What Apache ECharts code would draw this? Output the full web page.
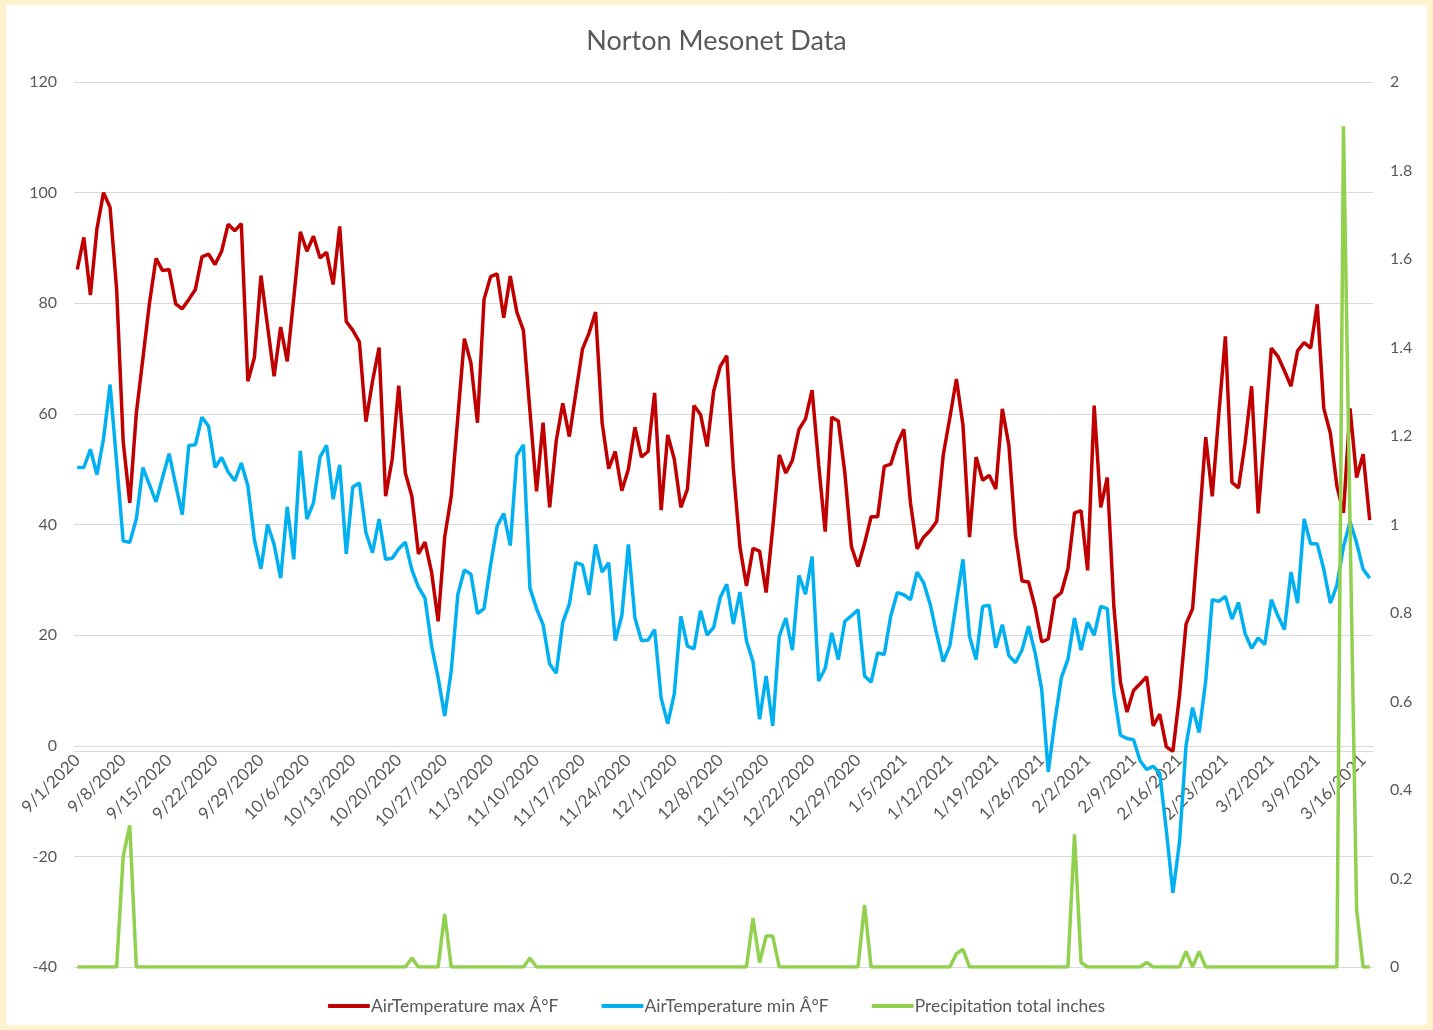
<!DOCTYPE html>
<html>
<head>
<meta charset="utf-8">
<title>Norton Mesonet Data</title>
<script src="https://cdn.jsdelivr.net/npm/echarts@6/dist/echarts.min.js"></script>
<style>
  html, body { margin: 0; height: 100%; background: #fff2cc; }
  #chart { position: absolute; left: 6px; top: 5px; width: 1421px; height: 1020px; background: #fff; }
</style>
</head>
<body>
<div id="chart"></div>
<script>
// daily values, 9/1/2020 .. 3/17/2021 (one row = one week)
const maxTemp = [
  86.1, 91.9, 81.5, 93.5, 100, 97.3, 82.5,
  55, 43.9, 60.1, 70, 80, 88.1, 85.9,
  86.1, 79.9, 79, 80.7, 82.5, 88.4, 88.9,
  87, 89.4, 94.3, 93.1, 94.4, 65.9, 70.2,
  85, 75.9, 66.8, 75.7, 69.5, 81, 92.9,
  89.4, 92.1, 88.2, 89.2, 83.4, 93.9, 76.7,
  75.1, 73, 58.6, 65.9, 72, 45.1, 51.8,
  65.1, 49.3, 45.1, 34.7, 36.8, 31.4, 22.5,
  37.7, 45.1, 59.3, 73.6, 69.2, 58.4, 80.7,
  84.8, 85.3, 77.4, 84.9, 78.4, 75.1, 60.5,
  46, 58.4, 43.1, 55.1, 61.9, 55.9, 63.8,
  71.7, 74.6, 78.4, 58.4, 50.1, 53.2, 46.1,
  50, 57.6, 52.2, 53.2, 63.8, 42.6, 56.2,
  51.8, 43.1, 46.4, 61.5, 59.9, 54.1, 64.1,
  68.6, 70.5, 50.1, 36, 28.9, 35.7, 35.2,
  27.7, 39.3, 52.6, 49.3, 51.6, 57.2, 59.1,
  64.3, 50.9, 38.7, 59.4, 58.7, 49.3, 36,
  32.4, 36.6, 41.4, 41.4, 50.5, 50.9, 54.7,
  57.2, 43.9, 35.6, 37.7, 38.9, 40.6, 52.6,
  59.3, 66.3, 58, 37.7, 52.2, 48, 48.9,
  46.4, 60.9, 54.3, 38.1, 29.8, 29.6, 25,
  18.8, 19.3, 26.7, 27.7, 32, 42.1, 42.5,
  31.7, 61.5, 43.1, 48.5, 25.2, 11.5, 6.1,
  10, 11.2, 12.5, 3.6, 5.7, -0.2, -1,
  9, 22, 24.8, 40, 55.8, 45.1, 60,
  74, 47.6, 46.6, 54.7, 65, 42, 56.7,
  71.9, 70.4, 67.8, 65, 71.4, 72.9, 71.9,
  79.8, 61, 56.5, 46.9, 42.1, 61, 48.5,
  52.7, 40.8
];

const minTemp = [
  50.3, 50.3, 53.6, 49, 55.5, 65.3, 51.2,
  37, 36.8, 41, 50.3, 47.2, 44.1, 48.5,
  52.8, 47.2, 41.8, 54.3, 54.4, 59.4, 57.8,
  50.3, 52.1, 49.5, 47.9, 51.1, 47, 37.2,
  32, 40, 36.4, 30.3, 43.2, 33.7, 53.3,
  41, 43.9, 52.2, 54.3, 44.6, 50.8, 34.7,
  46.8, 47.5, 38.5, 34.9, 41, 33.7, 33.9,
  35.6, 36.8, 31.8, 28.7, 26.7, 18.1, 12.3,
  5.4, 13.5, 27.3, 31.8, 31, 23.9, 24.8,
  32.7, 39.7, 42, 36.2, 52.5, 54.4, 28.5,
  24.8, 21.9, 14.8, 13.1, 22.3, 25.6, 33.1,
  32.7, 27.3, 36.4, 31.4, 33.1, 19, 23.5,
  36.4, 23.1, 19, 19.1, 21, 8.6, 4,
  9.4, 23.4, 18, 17.5, 24.4, 20, 21.4,
  26.8, 29.2, 22, 27.8, 19, 15.2, 4.8,
  12.6, 3.6, 19.8, 23.1, 17.3, 30.8, 27.4,
  34.2, 11.7, 14, 20.4, 15.6, 22.5, 23.5,
  24.6, 12.6, 11.5, 16.8, 16.5, 23.5, 27.7,
  27.3, 26.4, 31.4, 29.5, 25.6, 20.2, 15.2,
  18.1, 26, 33.7, 19.8, 15.6, 25.2, 25.4,
  17.7, 21.9, 16.3, 15, 17.3, 21.6, 16.8,
  10.2, -4.7, 4.4, 12.3, 15.6, 23.1, 17.3,
  22.3, 20, 25.2, 24.8, 9.8, 1.9, 1.3,
  1.1, -2.7, -4.3, -3.7, -5, -15.3, -26.6,
  -17.5, 0, 6.9, 2.4, 11.7, 26.4, 26.1,
  27, 22.9, 25.9, 20.3, 17.6, 19.5, 18.3,
  26.4, 23.5, 21, 31.4, 25.8, 41, 36.5,
  36.5, 31.9, 25.8, 29, 36, 40.5, 36.7,
  31.9, 30.3
];

const precip = [
  0, 0, 0, 0, 0, 0, 0,
  0.25, 0.32, 0, 0, 0, 0, 0,
  0, 0, 0, 0, 0, 0, 0,
  0, 0, 0, 0, 0, 0, 0,
  0, 0, 0, 0, 0, 0, 0,
  0, 0, 0, 0, 0, 0, 0,
  0, 0, 0, 0, 0, 0, 0,
  0, 0, 0.02, 0, 0, 0, 0,
  0.12, 0, 0, 0, 0, 0, 0,
  0, 0, 0, 0, 0, 0, 0.02,
  0, 0, 0, 0, 0, 0, 0,
  0, 0, 0, 0, 0, 0, 0,
  0, 0, 0, 0, 0, 0, 0,
  0, 0, 0, 0, 0, 0, 0,
  0, 0, 0, 0, 0, 0.11, 0.01,
  0.07, 0.07, 0, 0, 0, 0, 0,
  0, 0, 0, 0, 0, 0, 0,
  0, 0.14, 0, 0, 0, 0, 0,
  0, 0, 0, 0, 0, 0, 0,
  0, 0.03, 0.04, 0, 0, 0, 0,
  0, 0, 0, 0, 0, 0, 0,
  0, 0, 0, 0, 0, 0.3, 0.01,
  0, 0, 0, 0, 0, 0, 0,
  0, 0, 0.01, 0, 0, 0, 0,
  0, 0.035, 0, 0.035, 0, 0, 0,
  0, 0, 0, 0, 0, 0, 0,
  0, 0, 0, 0, 0, 0, 0,
  0, 0, 0, 0, 1.9, 1.0, 0.13,
  0, 0
];

const seriesNames = ["AirTemperature max Â°F", "AirTemperature min Â°F", "Precipitation total inches"];
const seriesColors = ["#c00000", "#00b0f0", "#92d050"];

const dates = maxTemp.map((_, i) => {
  const d = new Date(2020, 8, 1 + i);
  return `${d.getMonth() + 1}/${d.getDate()}/${d.getFullYear()}`;
});

const FONT = "Lato";
const TEXT = "#595959";
const GRID = "#d9d9d9";

const chart = echarts.init(document.getElementById("chart"));
chart.setOption({
  animation: false,
  textStyle: { fontFamily: FONT, color: TEXT },
  title: {
    text: "Norton Mesonet Data",
    left: "center",
    top: 18,
    textStyle: { fontFamily: FONT, fontSize: 27, fontWeight: "normal", color: TEXT }
  },
  legend: {
    data: seriesNames,
    bottom: 5,
    left: "center",
    icon: "roundRect",
    itemWidth: 42,
    itemHeight: 4,
    itemGap: 43,
    textStyle: { fontFamily: FONT, fontSize: 17.5, color: TEXT, padding: [0, 0, 0, -4] }
  },
  grid: { left: 68, right: 54, top: 77, bottom: 58, containLabel: false },
  xAxis: {
    type: "category",
    data: dates,
    boundaryGap: true,
    axisLine: { onZero: false, lineStyle: { color: GRID } },
    axisTick: { interval: 6, length: 5, lineStyle: { color: GRID } },
    axisLabel: { interval: 6, rotate: 45, margin: 6, fontSize: 17, color: TEXT, fontFamily: FONT },
    splitLine: { show: false }
  },
  yAxis: [
    {
      type: "value",
      min: -40,
      max: 120,
      interval: 20,
      axisLine: { show: false },
      axisTick: { show: false },
      axisLabel: { margin: 17, fontSize: 16, color: TEXT, fontFamily: FONT },
      splitLine: { lineStyle: { color: GRID } }
    },
    {
      type: "value",
      min: 0,
      max: 2,
      interval: 0.2,
      axisLine: { show: false },
      axisTick: { show: false },
      axisLabel: {
        margin: 17, fontSize: 16, color: TEXT, fontFamily: FONT,
        formatter: v => String(Math.round(v * 10) / 10)
      },
      splitLine: { show: false }
    }
  ],
  series: [maxTemp, minTemp, precip].map((values, k) => ({
    name: seriesNames[k],
    type: "line",
    yAxisIndex: k === 2 ? 1 : 0,
    data: values,
    symbol: "none",
    smooth: false,
    itemStyle: { color: seriesColors[k] },
    lineStyle: { color: seriesColors[k], width: 3.5 }
  }))
});

// put the category axis on the 0 °F line of the left axis
const zeroY = chart.convertToPixel({ yAxisIndex: 0 }, 0);
const bottomY = chart.convertToPixel({ yAxisIndex: 0 }, -40);
chart.setOption({ xAxis: { offset: zeroY - bottomY } });
</script>
</body>
</html>
